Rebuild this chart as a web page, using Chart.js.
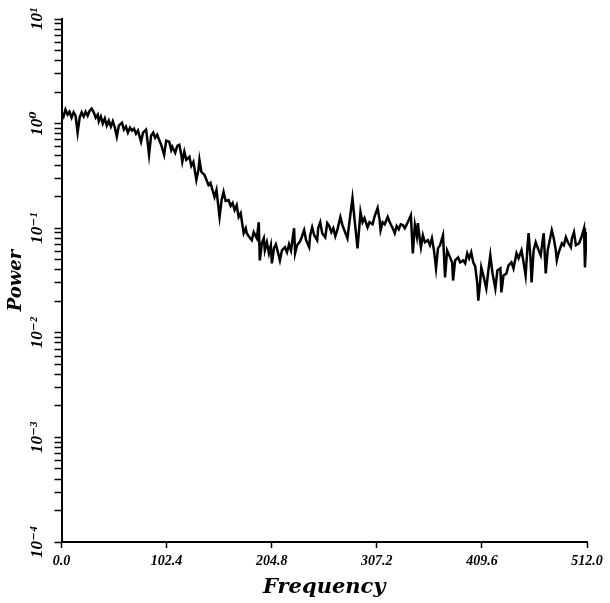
<!DOCTYPE html>
<html>
<head>
<meta charset="utf-8">
<script src="https://cdn.jsdelivr.net/npm/chart.js@4.4.1/dist/chart.umd.min.js"></script>
<style>
  html, body { margin: 0; padding: 0; background: #fff; }
  #wrap { width: 610px; height: 603px; }
</style>
</head>
<body>
<div id="wrap"><canvas id="spectrum" width="610" height="603"></canvas></div>
<script>
// frequency bins
const freq = [
  0, 2.0, 3.9, 5.9, 7.8, 9.8, 11.8, 13.7, 15.7, 17.7, 19.6, 21.6, 23.5, 25.5, 27.5, 29.4,
  31.4, 33.3, 35.3, 36.3, 38.3, 40.2, 42.2, 44.1, 46.1, 48.1, 50.0, 52.0, 53.9, 55.9, 58.9,
  60.8, 62.8, 64.7, 66.7, 68.7, 70.6, 72.6, 74.5, 77.5, 79.4, 82.4, 83.4, 85.3, 87.3, 89.3,
  91.2, 93.2, 95.1, 97.1, 100.0, 102.0, 104.9, 106.9, 107.9, 110.8, 112.8, 114.8, 116.7,
  117.7, 119.7, 121.6, 124.6, 126.5, 128.5, 131.4, 133.4, 134.4, 136.3, 139.3, 141.2, 143.2,
  145.2, 147.1, 149.1, 151.0, 154.0, 156.0, 157.9, 159.9, 162.8, 164.8, 166.7, 168.7, 170.7,
  172.6, 174.6, 175.6, 177.5, 179.5, 180.5, 182.4, 185.4, 187.3, 190.3, 192.2, 193.2, 195.2,
  197.1, 198.1, 200.1, 202.1, 204.0, 205.0, 207.0, 208.9, 210.9, 212.8, 214.8, 217.7, 219.7,
  221.7, 223.6, 226.6, 227.6, 229.5, 232.5, 234.4, 236.4, 238.3, 241.3, 242.3, 244.2, 246.2,
  249.1, 250.1, 252.1, 254.0, 257.0, 258.9, 260.9, 262.9, 264.8, 266.8, 268.7, 271.7, 273.7,
  275.6, 278.6, 280.5, 283.5, 285.4, 288.4, 290.3, 291.3, 293.3, 295.2, 298.2, 300.1, 303.1,
  305.1, 308.0, 310.0, 310.9, 312.9, 314.9, 317.8, 319.8, 322.7, 324.7, 326.6, 328.6, 330.5,
  332.5, 334.5, 337.4, 340.4, 342.3, 344.3, 346.2, 347.2, 349.2, 350.2, 352.1, 354.1, 357.0,
  359.0, 360.9, 362.9, 364.9, 366.8, 368.8, 371.7, 373.7, 375.7, 378.6, 380.6, 381.5, 383.5,
  386.5, 388.4, 391.4, 393.3, 395.3, 397.2, 399.2, 401.2, 403.1, 405.1, 406.1, 408.0, 409.0,
  411.0, 413.9, 415.9, 417.8, 419.8, 422.7, 424.7, 427.6, 428.6, 430.6, 433.5, 435.5, 438.4,
  440.4, 443.3, 445.3, 448.2, 450.2, 452.2, 454.1, 455.1, 457.1, 458.0, 460.0, 462.0, 464.9,
  466.9, 468.8, 469.8, 471.8, 473.7, 475.7, 477.7, 479.6, 481.6, 482.6, 484.5, 487.5, 489.4,
  491.4, 493.4, 496.3, 497.3, 499.3, 501.2, 504.2, 506.2, 509.1, 510.0, 511.0, 512.0
];

// power at each bin (log axis)
const power = [
  1.28, 1.17, 1.36, 1.22, 1.30, 1.14, 1.28, 1.19, 0.819, 1.14, 1.28, 1.17, 1.30, 1.19, 1.33, 1.39,
  1.28, 1.14, 1.22, 1.05, 1.17, 1.00, 1.12, 0.957, 1.07, 0.936, 1.05, 0.915, 0.750, 0.957, 1.02,
  0.876, 0.936, 0.819, 0.915, 0.857, 0.895, 0.801, 0.857, 0.671, 0.819, 0.876, 0.733, 0.503, 0.767, 0.819,
  0.733, 0.784, 0.702, 0.628, 0.503, 0.687, 0.671, 0.562, 0.601, 0.526, 0.614, 0.628, 0.503,
  0.431, 0.538, 0.451, 0.482, 0.395, 0.431, 0.290, 0.361, 0.451, 0.345, 0.323, 0.290, 0.259,
  0.271, 0.232, 0.199, 0.232, 0.128, 0.186, 0.222, 0.182, 0.186, 0.163, 0.174, 0.149, 0.166,
  0.128, 0.139, 0.119, 0.0896, 0.100, 0.0896, 0.0838, 0.0767, 0.0916, 0.0801, 0.114, 0.0492, 0.0717,
  0.0801, 0.0614, 0.0733, 0.0575, 0.0687, 0.0461, 0.0642, 0.0702, 0.0588, 0.0492, 0.0614, 0.0657, 0.0588,
  0.0702, 0.0614, 0.100, 0.0575, 0.0687, 0.0750, 0.0838, 0.0957, 0.0767, 0.0657, 0.0857, 0.102, 0.0857,
  0.0767, 0.100, 0.114, 0.0896, 0.0819, 0.112, 0.105, 0.0916, 0.100, 0.0838, 0.0957, 0.128, 0.107,
  0.0957, 0.0801, 0.114, 0.194, 0.125, 0.0642, 0.107, 0.143, 0.114, 0.125, 0.102, 0.114, 0.109,
  0.130, 0.156, 0.119, 0.0957, 0.114, 0.109, 0.128, 0.114, 0.100, 0.0896, 0.105, 0.0978, 0.109,
  0.107, 0.100, 0.114, 0.133, 0.0575, 0.107, 0.0838, 0.112, 0.0767, 0.0657, 0.0857, 0.0733, 0.0767,
  0.0687, 0.0801, 0.0614, 0.0413, 0.0642, 0.0687, 0.0857, 0.0338, 0.0614, 0.0526, 0.0471, 0.0316, 0.0492,
  0.0526, 0.0471, 0.0492, 0.0461, 0.0575, 0.0515, 0.0588, 0.0471, 0.0431, 0.0296, 0.0203, 0.0316, 0.0422,
  0.0353, 0.0265, 0.0395, 0.0550, 0.0378, 0.0265, 0.0395, 0.0413, 0.0243, 0.0353, 0.0369, 0.0441, 0.0471,
  0.0413, 0.0575, 0.0515, 0.0614, 0.0471, 0.0353, 0.0687, 0.0896, 0.0492, 0.0303, 0.0614, 0.0733, 0.0614,
  0.0550, 0.0767, 0.0896, 0.0369, 0.0614, 0.0767, 0.0957, 0.0801, 0.0614, 0.0492, 0.0588, 0.0717, 0.0687,
  0.0819, 0.0733, 0.0657, 0.0801, 0.0916, 0.0687, 0.0717, 0.0801, 0.100, 0.0422, 0.0687, 0.0916
];

// axis ticks
const xTicks = [0, 102.4, 204.8, 307.2, 409.6, 512.0];
const xTickLabels = ['0.0', '102.4', '204.8', '307.2', '409.6', '512.0'];
const yDecades = [1e-4, 1e-3, 1e-2, 1e-1, 1e0, 1e1];
const yDecadeLabels = ['10\u207B\u2074', '10\u207B\u00B3', '10\u207B\u00B2', '10\u207B\u00B9', '10\u2070', '10\u00B9'];
const yMinorSteps = [2, 3, 4, 5, 6, 7, 8, 9];

const serif = "'Liberation Serif', 'DejaVu Serif', serif";
const dvSerif = "'DejaVu Serif', serif";

function makeChart() {
  const points = freq.map((f, i) => ({ x: f, y: power[i] }));

  const yTickValues = [];
  yDecades.forEach((d, i) => {
    yTickValues.push(d);
    if (i < yDecades.length - 1) yMinorSteps.forEach(m => yTickValues.push(m * d));
  });

  const ctx = document.getElementById('spectrum').getContext('2d');
  return new Chart(ctx, {
    type: 'line',
    data: {
      datasets: [{
        data: points,
        borderColor: '#000',
        borderWidth: 2.5,
        pointRadius: 0,
        tension: 0,
        fill: false
      }]
    },
    options: {
      responsive: false,
      animation: false,
      layout: { padding: { top: 19, right: 23, left: 0, bottom: 0 } },
      plugins: { legend: { display: false }, tooltip: { enabled: false } },
      scales: {
        x: {
          type: 'linear',
          min: 0,
          max: 512,
          afterBuildTicks: scale => { scale.ticks = xTicks.map(v => ({ value: v })); },
          afterFit: scale => { scale.height = 61; },
          grid: { drawOnChartArea: false, drawTicks: true, tickLength: 6, tickWidth: 1.5, tickColor: '#000' },
          border: { display: true, color: '#000', width: 2 },
          ticks: {
            autoSkip: false,
            maxRotation: 0,
            padding: 5,
            color: '#000',
            font: { family: serif, size: 14, style: 'italic', weight: 'bold' },
            callback: (value, index) => xTickLabels[index]
          },
          title: {
            display: true,
            text: 'Frequency',
            color: '#000',
            padding: { top: 0, bottom: 3 },
            font: { family: dvSerif, size: 21, style: 'italic', weight: 'bold' }
          }
        },
        y: {
          type: 'logarithmic',
          min: 1e-4,
          max: 1e1,
          afterBuildTicks: scale => { scale.ticks = yTickValues.map(v => ({ value: v })); },
          afterFit: scale => { scale.width = 61.5; },
          grid: { drawOnChartArea: false, drawTicks: true, tickLength: 7, tickWidth: 1.5, tickColor: '#000' },
          border: { display: true, color: '#000', width: 2 },
          ticks: {
            autoSkip: false,
            minRotation: 90,
            maxRotation: 90,
            crossAlign: 'center',
            padding: 1,
            color: '#000',
            font: { family: serif, size: 17, style: 'italic', weight: 'bold' },
            callback: value => {
              const i = yDecades.indexOf(value);
              return i >= 0 ? yDecadeLabels[i] : '';
            }
          },
          title: {
            display: true,
            text: 'Power',
            color: '#000',
            padding: { top: 6, bottom: 0 },
            font: { family: dvSerif, size: 18, style: 'italic', weight: 'bold' }
          }
        }
      }
    }
  });
}

document.addEventListener('DOMContentLoaded', makeChart);
</script>
</body>
</html>
